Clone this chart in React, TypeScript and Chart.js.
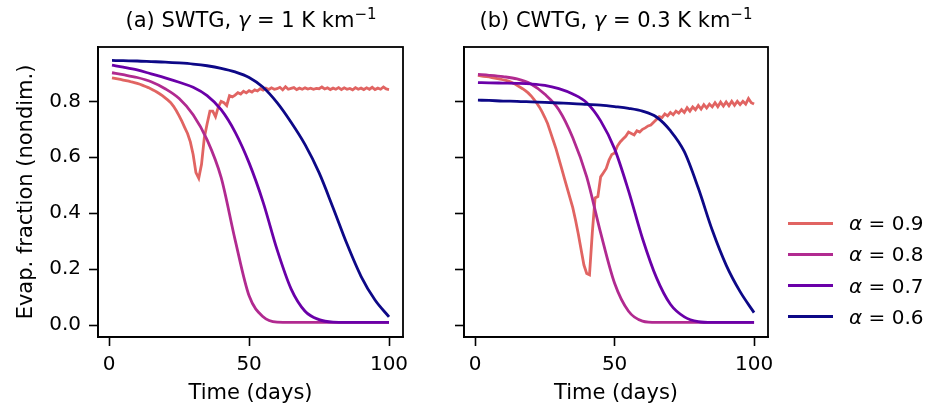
import React, { useEffect, useRef } from 'react';
import { Chart, registerables } from 'chart.js';

Chart.register(...registerables);

// ---------- data ----------
const days = [
  1, 2, 3, 4, 5, 6, 7, 8, 9, 10, 11, 12, 13, 14, 15, 16, 17, 18, 19, 20,
  21, 22, 23, 24, 25, 26, 27, 28, 29, 30, 31, 32, 33, 34, 35, 36, 37, 38, 39, 40,
  41, 42, 43, 44, 45, 46, 47, 48, 49, 50, 51, 52, 53, 54, 55, 56, 57, 58, 59, 60,
  61, 62, 63, 64, 65, 66, 67, 68, 69, 70, 71, 72, 73, 74, 75, 76, 77, 78, 79, 80,
  81, 82, 83, 84, 85, 86, 87, 88, 89, 90, 91, 92, 93, 94, 95, 96, 97, 98, 99, 100,
];
const smoothDays = [1, 5, 10, 15, 20, 25, 30, 35, 40, 45, 50, 55, 60, 65, 70, 75, 80, 85, 90, 95, 100];

// (a) SWTG
const swtgAlpha09 = [
  0.884, 0.882, 0.880, 0.878, 0.876, 0.874, 0.872, 0.869, 0.867, 0.864,
  0.861, 0.857, 0.853, 0.849, 0.844, 0.839, 0.833, 0.827, 0.820, 0.812,
  0.804, 0.795, 0.782, 0.766, 0.748, 0.728, 0.706, 0.685, 0.655, 0.610,
  0.545, 0.525, 0.575, 0.670, 0.720, 0.765, 0.765, 0.745, 0.780, 0.800,
  0.795, 0.785, 0.820, 0.816, 0.822, 0.831, 0.826, 0.836, 0.830, 0.838,
  0.833, 0.841, 0.837, 0.845, 0.840, 0.847, 0.842, 0.848, 0.843, 0.845,
  0.850, 0.841, 0.852, 0.843, 0.846, 0.849, 0.842, 0.847, 0.843, 0.848,
  0.844, 0.847, 0.843, 0.846, 0.845, 0.851, 0.844, 0.848, 0.842, 0.847,
  0.843, 0.849, 0.842, 0.848, 0.843, 0.846, 0.841, 0.849, 0.843, 0.847,
  0.842, 0.848, 0.843, 0.850, 0.842, 0.847, 0.843, 0.851, 0.844, 0.842,
];
const swtgAlpha08 = [0.902, 0.895, 0.885, 0.870, 0.845, 0.810, 0.752, 0.662, 0.528, 0.305, 0.105, 0.030, 0.011, 0.010, 0.010, 0.010, 0.010, 0.010, 0.010, 0.010, 0.010];
const swtgAlpha07 = [0.929, 0.922, 0.912, 0.898, 0.884, 0.868, 0.850, 0.820, 0.770, 0.690, 0.580, 0.440, 0.270, 0.130, 0.050, 0.020, 0.011, 0.010, 0.010, 0.010, 0.010];
const swtgAlpha06 = [0.946, 0.945, 0.944, 0.942, 0.940, 0.937, 0.933, 0.927, 0.918, 0.905, 0.885, 0.850, 0.795, 0.725, 0.645, 0.545, 0.420, 0.290, 0.175, 0.090, 0.030];

// (b) CWTG
const cwtgAlpha09 = [
  0.893, 0.891, 0.889, 0.888, 0.887, 0.885, 0.883, 0.881, 0.879, 0.877,
  0.875, 0.872, 0.868, 0.863, 0.857, 0.851, 0.845, 0.838, 0.830, 0.820,
  0.808, 0.795, 0.780, 0.762, 0.742, 0.720, 0.690, 0.660, 0.630, 0.595,
  0.560, 0.525, 0.490, 0.455, 0.420, 0.375, 0.325, 0.270, 0.215, 0.185,
  0.180, 0.330, 0.455, 0.460, 0.530, 0.545, 0.560, 0.590, 0.610, 0.615,
  0.640, 0.655, 0.665, 0.675, 0.690, 0.685, 0.680, 0.695, 0.690, 0.700,
  0.705, 0.712, 0.715, 0.725, 0.735, 0.745, 0.742, 0.755, 0.748, 0.760,
  0.752, 0.765, 0.758, 0.770, 0.760, 0.777, 0.765, 0.780, 0.770, 0.785,
  0.772, 0.788, 0.776, 0.790, 0.780, 0.795, 0.781, 0.797, 0.783, 0.798,
  0.784, 0.800, 0.786, 0.800, 0.788, 0.800, 0.790, 0.810, 0.795, 0.790,
];
const cwtgAlpha08 = [0.896, 0.893, 0.888, 0.880, 0.862, 0.825, 0.770, 0.670, 0.530, 0.330, 0.150, 0.050, 0.015, 0.010, 0.010, 0.010, 0.010, 0.010, 0.010, 0.010, 0.010];
const cwtgAlpha07 = [0.867, 0.866, 0.865, 0.864, 0.862, 0.857, 0.845, 0.826, 0.795, 0.730, 0.630, 0.480, 0.310, 0.170, 0.075, 0.030, 0.013, 0.010, 0.010, 0.010, 0.010];
const cwtgAlpha06 = [0.804, 0.803, 0.801, 0.800, 0.798, 0.796, 0.794, 0.792, 0.789, 0.786, 0.781, 0.775, 0.765, 0.744, 0.695, 0.620, 0.490, 0.340, 0.215, 0.120, 0.045];

const alphaLabels = ['0.9', '0.8', '0.7', '0.6'];
const alphaColors = ['#e16462', '#b12a90', '#6a00a8', '#0d0887'];
const xTicks = [0, 50, 100];
const yTicks = [0, 0.2, 0.4, 0.6, 0.8];

const FONT = "'DejaVu Sans', sans-serif";
Chart.defaults.font.family = FONT;

const framePlugin = {
  id: 'frame',
  afterDatasetsDraw(chart: any) {
    const { ctx, chartArea } = chart;
    const { left, top, right, bottom } = chartArea;
    ctx.save();
    ctx.strokeStyle = '#000';
    ctx.lineWidth = 1.8;
    ctx.strokeRect(left, top, right - left, bottom - top);
    ctx.restore();
  },
};

function pts(xs: number[], ys: number[]) {
  return xs.map((x, i) => ({ x, y: ys[i] }));
}

function makeConfig(isLeft: boolean, a09: number[], a08: number[], a07: number[], a06: number[]): any {
  const series = [
    { ys: a06, xs: smoothDays, c: alphaColors[3], smooth: true },
    { ys: a07, xs: smoothDays, c: alphaColors[2], smooth: true },
    { ys: a08, xs: smoothDays, c: alphaColors[1], smooth: true },
    { ys: a09, xs: days, c: alphaColors[0], smooth: false },
  ];
  return {
    type: 'line',
    data: {
      datasets: series.map((s) => ({
        data: pts(s.xs, s.ys),
        borderColor: s.c,
        backgroundColor: s.c,
        borderWidth: 2.8,
        pointRadius: 0,
        fill: false,
        cubicInterpolationMode: s.smooth ? 'monotone' : 'default',
        tension: 0,
      })),
    },
    options: {
      responsive: false,
      animation: false,
      devicePixelRatio: 1,
      events: [],
      layout: {
        padding: isLeft
          ? { left: 0, top: 47, right: 530, bottom: 0 }
          : { left: 444, top: 47, right: 165, bottom: 0 },
      },
      plugins: { legend: { display: false }, tooltip: { enabled: false }, title: { display: false } },
      scales: {
        x: {
          type: 'linear',
          min: -4,
          max: 105,
          afterBuildTicks: (s: any) => {
            s.ticks = xTicks.map((v) => ({ value: v }));
          },
          afterFit: (s: any) => {
            s.height = 73;
          },
          grid: { display: true, drawOnChartArea: false, drawTicks: true, tickLength: 9, tickWidth: 1.6, tickColor: '#000' },
          border: { display: true, color: '#000', width: 1.8 },
          ticks: {
            color: '#000',
            font: { size: 20, family: FONT },
            padding: 7,
            maxRotation: 0,
            autoSkip: false,
            callback: (v: any) => String(v),
          },
          title: {
            display: true,
            text: 'Time (days)',
            color: '#000',
            font: { size: 21, family: FONT },
            padding: { top: 0, bottom: 4 },
          },
        },
        y: {
          type: 'linear',
          min: -0.042,
          max: 0.994,
          afterBuildTicks: (s: any) => {
            s.ticks = yTicks.map((v) => ({ value: v }));
          },
          afterFit: (s: any) => {
            s.width = isLeft ? 98 : 20;
          },
          grid: { display: true, drawOnChartArea: false, drawTicks: true, tickLength: 9, tickWidth: 1.6, tickColor: '#000' },
          border: { display: true, color: '#000', width: 1.8 },
          ticks: {
            display: isLeft,
            color: '#000',
            font: { size: 20, family: FONT },
            padding: 8,
            autoSkip: false,
            callback: (v: any) => Number(v).toFixed(1),
          },
          title: {
            display: isLeft,
            text: 'Evap. fraction (nondim.)',
            color: '#000',
            font: { size: 21, family: FONT },
            padding: { top: 14, bottom: 0 },
          },
        },
      },
    },
    plugins: [framePlugin],
  };
}

function Panel({ isLeft }: { isLeft: boolean }) {
  const ref = useRef<HTMLCanvasElement | null>(null);
  useEffect(() => {
    if (!ref.current) return;
    const cfg = isLeft
      ? makeConfig(true, swtgAlpha09, swtgAlpha08, swtgAlpha07, swtgAlpha06)
      : makeConfig(false, cwtgAlpha09, cwtgAlpha08, cwtgAlpha07, cwtgAlpha06);
    const chart = new Chart(ref.current, cfg);
    return () => chart.destroy();
  }, [isLeft]);
  return (
    <canvas
      ref={ref}
      width={933}
      height={410}
      style={{ position: 'absolute', left: 0, top: 0, width: 933, height: 410 }}
    />
  );
}

const sup = { fontSize: 15, position: 'relative' as const, top: -8 };
const titleStyle = {
  position: 'absolute' as const,
  width: 400,
  top: 8,
  fontSize: 21,
  lineHeight: '25px',
  textAlign: 'center' as const,
  whiteSpace: 'nowrap' as const,
};

export default function App() {
  return (
    <div
      style={{
        position: 'absolute',
        left: 0,
        top: 0,
        width: 933,
        height: 410,
        background: '#fff',
        fontFamily: FONT,
        color: '#000',
        overflow: 'hidden',
      }}
    >
      <Panel isLeft={true} />
      <Panel isLeft={false} />
      <div style={{ ...titleStyle, left: 51 }}>
        (a) SWTG, <i>γ</i> = 1 K km<span style={sup}>−1</span>
      </div>
      <div style={{ ...titleStyle, left: 416 }}>
        (b) CWTG, <i>γ</i> = 0.3 K km<span style={sup}>−1</span>
      </div>
      {alphaLabels.map((lab, i) => (
        <div
          key={lab}
          style={{
            position: 'absolute',
            left: 788,
            top: 211 + i * 31.3,
            height: 24,
            display: 'flex',
            alignItems: 'center',
            fontSize: 20,
            lineHeight: '24px',
            whiteSpace: 'nowrap',
          }}
        >
          <div style={{ width: 45, height: 3, background: alphaColors[i] }} />
          <span style={{ marginLeft: 16 }}>
            <i>α</i> = {lab}
          </span>
        </div>
      ))}
    </div>
  );
}
